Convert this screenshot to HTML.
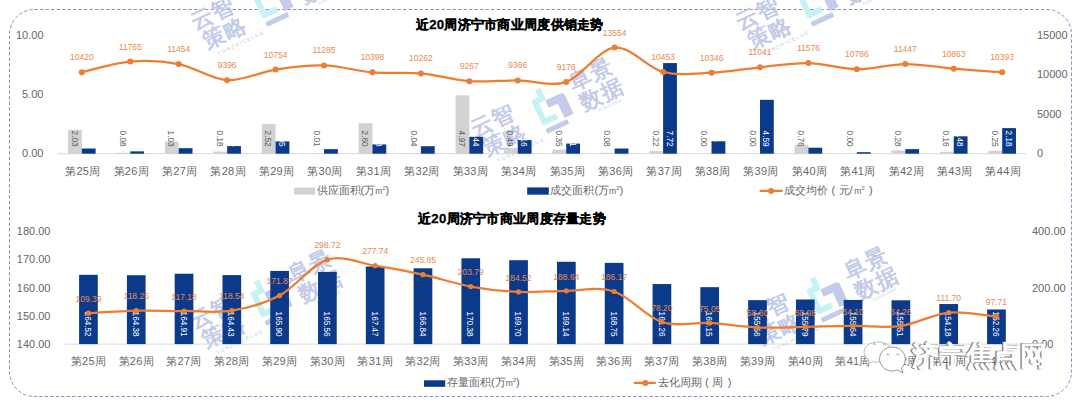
<!DOCTYPE html><html><head><meta charset="utf-8"><style>html,body{margin:0;padding:0;background:#fff;font-family:'Liberation Sans',sans-serif;}body{width:1080px;height:403px;overflow:hidden;position:relative;}svg{position:absolute;left:0;top:0;}</style></head><body>
<svg width="1080" height="403" viewBox="0 0 1080 403" font-family="Liberation Sans, sans-serif">
<rect x="9.5" y="9.5" width="1062" height="387" rx="25" ry="25" fill="none" stroke="#8791c4" stroke-width="1" stroke-dasharray="3.4 2.1"/>
<g transform="translate(315.0,-23.0) rotate(-25)" font-weight="bold" font-size="22" fill="#c3cbe8"><text x="0" y="-3" text-anchor="middle" letter-spacing="1">阜景</text><text x="2" y="20" text-anchor="middle" letter-spacing="1">数据</text><text x="4" y="27" text-anchor="middle" font-size="4" font-weight="normal">FUJING DATA</text><g transform="translate(-50,2)"><path d="M-4,-22 L-4,-11 L-12,-11 L-12,11 L2,11" fill="none" stroke="#c6f2f3" stroke-width="6" stroke-linejoin="round"/><path d="M-2,-8 L14,-8 Q18,-8 18,-4 L18,16 L8,16 L8,0 L-2,0 Z" fill="#c3cbe8"/><rect x="-14" y="18" width="24" height="5" rx="1" fill="#c3cbe8"/></g><text x="-108" y="-3" text-anchor="middle" letter-spacing="1">云智</text><text x="-105" y="20" text-anchor="middle" letter-spacing="1">策略</text><text x="-95" y="30" text-anchor="middle" font-size="5" font-weight="normal" letter-spacing="1.5">YUNZHICELUE</text></g>
<g transform="translate(860.0,-23.0) rotate(-25)" font-weight="bold" font-size="22" fill="#c3cbe8"><text x="0" y="-3" text-anchor="middle" letter-spacing="1">阜景</text><text x="2" y="20" text-anchor="middle" letter-spacing="1">数据</text><text x="4" y="27" text-anchor="middle" font-size="4" font-weight="normal">FUJING DATA</text><g transform="translate(-50,2)"><path d="M-4,-22 L-4,-11 L-12,-11 L-12,11 L2,11" fill="none" stroke="#c6f2f3" stroke-width="6" stroke-linejoin="round"/><path d="M-2,-8 L14,-8 Q18,-8 18,-4 L18,16 L8,16 L8,0 L-2,0 Z" fill="#c3cbe8"/><rect x="-14" y="18" width="24" height="5" rx="1" fill="#c3cbe8"/></g><text x="-108" y="-3" text-anchor="middle" letter-spacing="1">云智</text><text x="-105" y="20" text-anchor="middle" letter-spacing="1">策略</text><text x="-95" y="30" text-anchor="middle" font-size="5" font-weight="normal" letter-spacing="1.5">YUNZHICELUE</text></g>
<g transform="translate(595.0,84.0) rotate(-25)" font-weight="bold" font-size="22" fill="#c3cbe8"><text x="0" y="-3" text-anchor="middle" letter-spacing="1">阜景</text><text x="2" y="20" text-anchor="middle" letter-spacing="1">数据</text><text x="4" y="27" text-anchor="middle" font-size="4" font-weight="normal">FUJING DATA</text><g transform="translate(-50,2)"><path d="M-4,-22 L-4,-11 L-12,-11 L-12,11 L2,11" fill="none" stroke="#c6f2f3" stroke-width="6" stroke-linejoin="round"/><path d="M-2,-8 L14,-8 Q18,-8 18,-4 L18,16 L8,16 L8,0 L-2,0 Z" fill="#c3cbe8"/><rect x="-14" y="18" width="24" height="5" rx="1" fill="#c3cbe8"/></g><text x="-108" y="-3" text-anchor="middle" letter-spacing="1">云智</text><text x="-105" y="20" text-anchor="middle" letter-spacing="1">策略</text><text x="-95" y="30" text-anchor="middle" font-size="5" font-weight="normal" letter-spacing="1.5">YUNZHICELUE</text></g>
<g transform="translate(314.0,276.0) rotate(-25)" font-weight="bold" font-size="22" fill="#c3cbe8"><text x="0" y="-3" text-anchor="middle" letter-spacing="1">阜景</text><text x="2" y="20" text-anchor="middle" letter-spacing="1">数据</text><text x="4" y="27" text-anchor="middle" font-size="4" font-weight="normal">FUJING DATA</text><g transform="translate(-50,2)"><path d="M-4,-22 L-4,-11 L-12,-11 L-12,11 L2,11" fill="none" stroke="#c6f2f3" stroke-width="6" stroke-linejoin="round"/><path d="M-2,-8 L14,-8 Q18,-8 18,-4 L18,16 L8,16 L8,0 L-2,0 Z" fill="#c3cbe8"/><rect x="-14" y="18" width="24" height="5" rx="1" fill="#c3cbe8"/></g><text x="-108" y="-3" text-anchor="middle" letter-spacing="1">云智</text><text x="-105" y="20" text-anchor="middle" letter-spacing="1">策略</text><text x="-95" y="30" text-anchor="middle" font-size="5" font-weight="normal" letter-spacing="1.5">YUNZHICELUE</text></g>
<g transform="translate(870.0,273.0) rotate(-25)" font-weight="bold" font-size="22" fill="#c3cbe8"><text x="0" y="-3" text-anchor="middle" letter-spacing="1">阜景</text><text x="2" y="20" text-anchor="middle" letter-spacing="1">数据</text><text x="4" y="27" text-anchor="middle" font-size="4" font-weight="normal">FUJING DATA</text><g transform="translate(-50,2)"><path d="M-4,-22 L-4,-11 L-12,-11 L-12,11 L2,11" fill="none" stroke="#c6f2f3" stroke-width="6" stroke-linejoin="round"/><path d="M-2,-8 L14,-8 Q18,-8 18,-4 L18,16 L8,16 L8,0 L-2,0 Z" fill="#c3cbe8"/><rect x="-14" y="18" width="24" height="5" rx="1" fill="#c3cbe8"/></g><text x="-108" y="-3" text-anchor="middle" letter-spacing="1">云智</text><text x="-105" y="20" text-anchor="middle" letter-spacing="1">策略</text><text x="-95" y="30" text-anchor="middle" font-size="5" font-weight="normal" letter-spacing="1.5">YUNZHICELUE</text></g>
<text x="509.8" y="28.6" text-anchor="middle" font-size="13.2" letter-spacing="0.28" font-weight="bold" fill="#000" stroke="#000" stroke-width="0.3">近20周济宁市商业周度供销走势</text>
<line x1="57.6" y1="153.7" x2="1026.4" y2="153.7" stroke="#d9d9d9" stroke-width="1"/>
<text x="43.5" y="39.2" text-anchor="end" font-size="11" fill="#666666">10.00</text>
<text x="43.5" y="97.9" text-anchor="end" font-size="11" fill="#666666">5.00</text>
<text x="43.5" y="156.6" text-anchor="end" font-size="11" fill="#666666">0.00</text>
<text x="1037" y="39.2" text-anchor="start" font-size="11" fill="#666666">15000</text>
<text x="1037" y="78.3" text-anchor="start" font-size="11" fill="#666666">10000</text>
<text x="1037" y="117.5" text-anchor="start" font-size="11" fill="#666666">5000</text>
<text x="1037" y="156.6" text-anchor="start" font-size="11" fill="#666666">0</text>
<rect x="68.02" y="129.87" width="13.80" height="23.83" fill="#d3d1d4"/>
<rect x="81.82" y="148.53" width="13.80" height="5.17" fill="#0b3a8b"/>
<text x="82.82" y="175" text-anchor="middle" font-size="11" letter-spacing="0.3" fill="#666666">第25周</text>
<rect x="116.46" y="152.76" width="13.80" height="0.94" fill="#d3d1d4"/>
<rect x="130.26" y="151.35" width="13.80" height="2.35" fill="#0b3a8b"/>
<text x="131.26" y="175" text-anchor="middle" font-size="11" letter-spacing="0.3" fill="#666666">第26周</text>
<rect x="164.90" y="141.61" width="13.80" height="12.09" fill="#d3d1d4"/>
<rect x="178.70" y="148.18" width="13.80" height="5.52" fill="#0b3a8b"/>
<text x="179.70" y="175" text-anchor="middle" font-size="11" letter-spacing="0.3" fill="#666666">第27周</text>
<rect x="213.34" y="151.59" width="13.80" height="2.11" fill="#d3d1d4"/>
<rect x="227.14" y="146.07" width="13.80" height="7.63" fill="#0b3a8b"/>
<text x="228.14" y="175" text-anchor="middle" font-size="11" letter-spacing="0.3" fill="#666666">第28周</text>
<rect x="261.78" y="124.12" width="13.80" height="29.58" fill="#d3d1d4"/>
<rect x="275.58" y="141.37" width="13.80" height="12.33" fill="#0b3a8b"/>
<text x="276.58" y="175" text-anchor="middle" font-size="11" letter-spacing="0.3" fill="#666666">第29周</text>
<rect x="310.22" y="153.58" width="13.80" height="0.12" fill="#d3d1d4"/>
<rect x="324.02" y="149.12" width="13.80" height="4.58" fill="#0b3a8b"/>
<text x="325.02" y="175" text-anchor="middle" font-size="11" letter-spacing="0.3" fill="#666666">第30周</text>
<rect x="358.66" y="123.18" width="13.80" height="30.52" fill="#d3d1d4"/>
<rect x="372.46" y="144.43" width="13.80" height="9.27" fill="#0b3a8b"/>
<text x="373.46" y="175" text-anchor="middle" font-size="11" letter-spacing="0.3" fill="#666666">第31周</text>
<rect x="407.10" y="153.23" width="13.80" height="0.47" fill="#d3d1d4"/>
<rect x="420.90" y="146.19" width="13.80" height="7.51" fill="#0b3a8b"/>
<text x="421.90" y="175" text-anchor="middle" font-size="11" letter-spacing="0.3" fill="#666666">第32周</text>
<rect x="455.54" y="95.35" width="13.80" height="58.35" fill="#d3d1d4"/>
<rect x="469.34" y="136.79" width="13.80" height="16.91" fill="#0b3a8b"/>
<text x="470.34" y="175" text-anchor="middle" font-size="11" letter-spacing="0.3" fill="#666666">第33周</text>
<rect x="503.98" y="147.95" width="13.80" height="5.75" fill="#d3d1d4"/>
<rect x="517.78" y="140.08" width="13.80" height="13.62" fill="#0b3a8b"/>
<text x="518.78" y="175" text-anchor="middle" font-size="11" letter-spacing="0.3" fill="#666666">第34周</text>
<rect x="552.42" y="149.59" width="13.80" height="4.11" fill="#d3d1d4"/>
<rect x="566.22" y="143.60" width="13.80" height="10.10" fill="#0b3a8b"/>
<text x="567.22" y="175" text-anchor="middle" font-size="11" letter-spacing="0.3" fill="#666666">第35周</text>
<rect x="600.86" y="152.76" width="13.80" height="0.94" fill="#d3d1d4"/>
<rect x="614.66" y="148.53" width="13.80" height="5.17" fill="#0b3a8b"/>
<text x="615.66" y="175" text-anchor="middle" font-size="11" letter-spacing="0.3" fill="#666666">第36周</text>
<rect x="649.30" y="151.12" width="13.80" height="2.58" fill="#d3d1d4"/>
<rect x="663.10" y="63.07" width="13.80" height="90.63" fill="#0b3a8b"/>
<text x="664.10" y="175" text-anchor="middle" font-size="11" letter-spacing="0.3" fill="#666666">第37周</text>
<rect x="711.54" y="141.26" width="13.80" height="12.44" fill="#0b3a8b"/>
<text x="712.54" y="175" text-anchor="middle" font-size="11" letter-spacing="0.3" fill="#666666">第38周</text>
<rect x="759.98" y="99.81" width="13.80" height="53.89" fill="#0b3a8b"/>
<text x="760.98" y="175" text-anchor="middle" font-size="11" letter-spacing="0.3" fill="#666666">第39周</text>
<rect x="794.62" y="144.78" width="13.80" height="8.92" fill="#d3d1d4"/>
<rect x="808.42" y="147.71" width="13.80" height="5.99" fill="#0b3a8b"/>
<text x="809.42" y="175" text-anchor="middle" font-size="11" letter-spacing="0.3" fill="#666666">第40周</text>
<rect x="856.86" y="152.17" width="13.80" height="1.53" fill="#0b3a8b"/>
<text x="857.86" y="175" text-anchor="middle" font-size="11" letter-spacing="0.3" fill="#666666">第41周</text>
<rect x="891.50" y="150.41" width="13.80" height="3.29" fill="#d3d1d4"/>
<rect x="905.30" y="149.12" width="13.80" height="4.58" fill="#0b3a8b"/>
<text x="906.30" y="175" text-anchor="middle" font-size="11" letter-spacing="0.3" fill="#666666">第42周</text>
<rect x="939.94" y="151.82" width="13.80" height="1.88" fill="#d3d1d4"/>
<rect x="953.74" y="136.32" width="13.80" height="17.38" fill="#0b3a8b"/>
<text x="954.74" y="175" text-anchor="middle" font-size="11" letter-spacing="0.3" fill="#666666">第43周</text>
<rect x="988.38" y="150.76" width="13.80" height="2.94" fill="#d3d1d4"/>
<rect x="1002.18" y="128.11" width="13.80" height="25.59" fill="#0b3a8b"/>
<text x="1003.18" y="175" text-anchor="middle" font-size="11" letter-spacing="0.3" fill="#666666">第44周</text>
<text transform="translate(71.51,130.6) rotate(90) scale(0.97,1.12)" font-size="8.5" fill="#595959">2.03</text>
<text transform="translate(85.31,130.6) rotate(90) scale(0.97,1.12)" font-size="8.5" fill="#fff">0.44</text>
<text transform="translate(119.95,130.6) rotate(90) scale(0.97,1.12)" font-size="8.5" fill="#595959">0.08</text>
<text transform="translate(133.75,130.6) rotate(90) scale(0.97,1.12)" font-size="8.5" fill="#fff">0.20</text>
<text transform="translate(168.39,130.6) rotate(90) scale(0.97,1.12)" font-size="8.5" fill="#595959">1.03</text>
<text transform="translate(182.19,130.6) rotate(90) scale(0.97,1.12)" font-size="8.5" fill="#fff">0.47</text>
<text transform="translate(216.83,130.6) rotate(90) scale(0.97,1.12)" font-size="8.5" fill="#595959">0.18</text>
<text transform="translate(230.63,130.6) rotate(90) scale(0.97,1.12)" font-size="8.5" fill="#fff">0.65</text>
<text transform="translate(265.27,130.6) rotate(90) scale(0.97,1.12)" font-size="8.5" fill="#595959">2.52</text>
<text transform="translate(279.07,130.6) rotate(90) scale(0.97,1.12)" font-size="8.5" fill="#fff">1.05</text>
<text transform="translate(313.71,130.6) rotate(90) scale(0.97,1.12)" font-size="8.5" fill="#595959">0.01</text>
<text transform="translate(327.51,130.6) rotate(90) scale(0.97,1.12)" font-size="8.5" fill="#fff">0.39</text>
<text transform="translate(362.15,130.6) rotate(90) scale(0.97,1.12)" font-size="8.5" fill="#595959">2.60</text>
<text transform="translate(375.95,130.6) rotate(90) scale(0.97,1.12)" font-size="8.5" fill="#fff">0.78</text>
<text transform="translate(410.59,130.6) rotate(90) scale(0.97,1.12)" font-size="8.5" fill="#595959">0.04</text>
<text transform="translate(424.39,130.6) rotate(90) scale(0.97,1.12)" font-size="8.5" fill="#fff">0.64</text>
<text transform="translate(459.03,130.6) rotate(90) scale(0.97,1.12)" font-size="8.5" fill="#595959">4.97</text>
<text transform="translate(472.83,130.6) rotate(90) scale(0.97,1.12)" font-size="8.5" fill="#fff">1.44</text>
<text transform="translate(507.47,130.6) rotate(90) scale(0.97,1.12)" font-size="8.5" fill="#595959">0.49</text>
<text transform="translate(521.27,130.6) rotate(90) scale(0.97,1.12)" font-size="8.5" fill="#fff">1.16</text>
<text transform="translate(555.91,130.6) rotate(90) scale(0.97,1.12)" font-size="8.5" fill="#595959">0.35</text>
<text transform="translate(569.71,130.6) rotate(90) scale(0.97,1.12)" font-size="8.5" fill="#fff">0.81</text>
<text transform="translate(604.35,130.6) rotate(90) scale(0.97,1.12)" font-size="8.5" fill="#595959">0.08</text>
<text transform="translate(618.15,130.6) rotate(90) scale(0.97,1.12)" font-size="8.5" fill="#fff">0.44</text>
<text transform="translate(652.79,130.6) rotate(90) scale(0.97,1.12)" font-size="8.5" fill="#595959">0.22</text>
<text transform="translate(666.59,130.6) rotate(90) scale(0.97,1.12)" font-size="8.5" fill="#fff">7.72</text>
<text transform="translate(701.23,130.6) rotate(90) scale(0.97,1.12)" font-size="8.5" fill="#595959">0.00</text>
<text transform="translate(715.03,130.6) rotate(90) scale(0.97,1.12)" font-size="8.5" fill="#fff">1.1</text>
<text transform="translate(749.67,130.6) rotate(90) scale(0.97,1.12)" font-size="8.5" fill="#595959">0.00</text>
<text transform="translate(763.47,130.6) rotate(90) scale(0.97,1.12)" font-size="8.5" fill="#fff">4.59</text>
<text transform="translate(798.11,130.6) rotate(90) scale(0.97,1.12)" font-size="8.5" fill="#595959">0.76</text>
<text transform="translate(811.91,130.6) rotate(90) scale(0.97,1.12)" font-size="8.5" fill="#fff">0.51</text>
<text transform="translate(846.55,130.6) rotate(90) scale(0.97,1.12)" font-size="8.5" fill="#595959">0.00</text>
<text transform="translate(860.35,130.6) rotate(90) scale(0.97,1.12)" font-size="8.5" fill="#fff">0.13</text>
<text transform="translate(894.99,130.6) rotate(90) scale(0.97,1.12)" font-size="8.5" fill="#595959">0.28</text>
<text transform="translate(908.79,130.6) rotate(90) scale(0.97,1.12)" font-size="8.5" fill="#fff">0.39</text>
<text transform="translate(943.43,130.6) rotate(90) scale(0.97,1.12)" font-size="8.5" fill="#595959">0.16</text>
<text transform="translate(957.23,130.6) rotate(90) scale(0.97,1.12)" font-size="8.5" fill="#fff">1.48</text>
<text transform="translate(991.87,130.6) rotate(90) scale(0.97,1.12)" font-size="8.5" fill="#595959">0.25</text>
<text transform="translate(1005.67,130.6) rotate(90) scale(0.97,1.12)" font-size="8.5" fill="#fff">2.18</text>
<path d="M81.82,72.15 C89.89,70.39 114.11,62.97 130.26,61.62 C146.41,60.27 162.55,60.96 178.70,64.05 C194.85,67.14 210.99,79.25 227.14,80.16 C243.29,81.07 259.43,72.00 275.58,69.53 C291.73,67.07 307.87,64.91 324.02,65.38 C340.17,65.84 356.31,70.98 372.46,72.32 C388.61,73.65 404.75,71.91 420.90,73.38 C437.05,74.86 453.19,80.00 469.34,81.17 C485.49,82.34 501.63,80.28 517.78,80.40 C533.93,80.51 550.07,87.35 566.22,81.88 C582.37,76.42 598.51,49.28 614.66,47.62 C630.81,45.95 646.95,67.70 663.10,71.89 C679.25,76.07 695.39,73.49 711.54,72.73 C727.69,71.96 743.83,68.89 759.98,67.29 C776.13,65.68 792.27,62.77 808.42,63.10 C824.57,63.43 840.71,69.11 856.86,69.28 C873.01,69.45 889.15,64.21 905.30,64.11 C921.45,64.01 937.59,67.30 953.74,68.68 C969.89,70.05 994.11,71.74 1002.18,72.36" fill="none" stroke="#ed7d31" stroke-width="2.25" stroke-linejoin="round"/>
<circle cx="81.82" cy="72.15" r="3" fill="#ed7d31"/>
<text x="81.82" y="60.20" text-anchor="middle" font-size="8.5" fill="#e98a4c">10420</text>
<circle cx="130.26" cy="61.62" r="3" fill="#ed7d31"/>
<text x="130.26" y="49.67" text-anchor="middle" font-size="8.5" fill="#e98a4c">11765</text>
<circle cx="178.70" cy="64.05" r="3" fill="#ed7d31"/>
<text x="178.70" y="52.10" text-anchor="middle" font-size="8.5" fill="#e98a4c">11454</text>
<circle cx="227.14" cy="80.16" r="3" fill="#ed7d31"/>
<text x="227.14" y="68.21" text-anchor="middle" font-size="8.5" fill="#e98a4c">9396</text>
<circle cx="275.58" cy="69.53" r="3" fill="#ed7d31"/>
<text x="275.58" y="57.58" text-anchor="middle" font-size="8.5" fill="#e98a4c">10754</text>
<circle cx="324.02" cy="65.38" r="3" fill="#ed7d31"/>
<text x="324.02" y="53.43" text-anchor="middle" font-size="8.5" fill="#e98a4c">11285</text>
<circle cx="372.46" cy="72.32" r="3" fill="#ed7d31"/>
<text x="372.46" y="60.37" text-anchor="middle" font-size="8.5" fill="#e98a4c">10398</text>
<circle cx="420.90" cy="73.38" r="3" fill="#ed7d31"/>
<text x="420.90" y="61.43" text-anchor="middle" font-size="8.5" fill="#e98a4c">10262</text>
<circle cx="469.34" cy="81.17" r="3" fill="#ed7d31"/>
<text x="469.34" y="69.22" text-anchor="middle" font-size="8.5" fill="#e98a4c">9267</text>
<circle cx="517.78" cy="80.40" r="3" fill="#ed7d31"/>
<text x="517.78" y="68.45" text-anchor="middle" font-size="8.5" fill="#e98a4c">9366</text>
<circle cx="566.22" cy="81.88" r="3" fill="#ed7d31"/>
<text x="566.22" y="69.93" text-anchor="middle" font-size="8.5" fill="#e98a4c">9176</text>
<circle cx="614.66" cy="47.62" r="3" fill="#ed7d31"/>
<text x="614.66" y="35.67" text-anchor="middle" font-size="8.5" fill="#e98a4c">13554</text>
<circle cx="663.10" cy="71.89" r="3" fill="#ed7d31"/>
<text x="663.10" y="59.94" text-anchor="middle" font-size="8.5" fill="#e98a4c">10453</text>
<circle cx="711.54" cy="72.73" r="3" fill="#ed7d31"/>
<text x="711.54" y="60.78" text-anchor="middle" font-size="8.5" fill="#e98a4c">10346</text>
<circle cx="759.98" cy="67.29" r="3" fill="#ed7d31"/>
<text x="759.98" y="55.34" text-anchor="middle" font-size="8.5" fill="#e98a4c">11041</text>
<circle cx="808.42" cy="63.10" r="3" fill="#ed7d31"/>
<text x="808.42" y="51.15" text-anchor="middle" font-size="8.5" fill="#e98a4c">11576</text>
<circle cx="856.86" cy="69.28" r="3" fill="#ed7d31"/>
<text x="856.86" y="57.33" text-anchor="middle" font-size="8.5" fill="#e98a4c">10786</text>
<circle cx="905.30" cy="64.11" r="3" fill="#ed7d31"/>
<text x="905.30" y="52.16" text-anchor="middle" font-size="8.5" fill="#e98a4c">11447</text>
<circle cx="953.74" cy="68.68" r="3" fill="#ed7d31"/>
<text x="953.74" y="56.73" text-anchor="middle" font-size="8.5" fill="#e98a4c">10863</text>
<circle cx="1002.18" cy="72.36" r="3" fill="#ed7d31"/>
<text x="1002.18" y="60.41" text-anchor="middle" font-size="8.5" fill="#e98a4c">10393</text>
<rect x="294" y="187.6" width="21" height="7" fill="#d3d1d4"/>
<text x="316.5" y="193.6" font-size="11" fill="#666666">供应面积(万<tspan font-size="8.5">m</tspan><tspan font-size="6" dy="-4">2</tspan><tspan dy="4">)</tspan></text>
<rect x="527.2" y="187.4" width="21.6" height="7.3" fill="#0b3a8b"/>
<text x="550.4" y="193.6" font-size="11" fill="#666666">成交面积(万<tspan font-size="8.5">m</tspan><tspan font-size="6" dy="-4">2</tspan><tspan dy="4">)</tspan></text>
<line x1="759.7" y1="190.9" x2="782.6" y2="190.9" stroke="#ed7d31" stroke-width="2.25"/>
<circle cx="771.1" cy="190.9" r="3" fill="#ed7d31"/>
<text x="784" y="193.6" font-size="11" fill="#666666">成交均价<tspan x="831.6">(</tspan><tspan x="838.5">元/</tspan><tspan x="854.3" font-size="8.5">m</tspan><tspan font-size="6" dy="-4">2</tspan><tspan x="869" dy="4">)</tspan></text>
<text x="512" y="223.1" text-anchor="middle" font-size="13.2" letter-spacing="0.28" font-weight="bold" fill="#000" stroke="#000" stroke-width="0.3">近20周济宁市商业周度存量走势</text>
<line x1="64.5" y1="344.1" x2="1020.3" y2="344.1" stroke="#d9d9d9" stroke-width="1"/>
<text x="50.5" y="235.0" text-anchor="end" font-size="11" fill="#666666">180.00</text>
<text x="50.5" y="263.2" text-anchor="end" font-size="11" fill="#666666">170.00</text>
<text x="50.5" y="291.5" text-anchor="end" font-size="11" fill="#666666">160.00</text>
<text x="50.5" y="319.8" text-anchor="end" font-size="11" fill="#666666">150.00</text>
<text x="50.5" y="348.0" text-anchor="end" font-size="11" fill="#666666">140.00</text>
<text x="1032" y="235.0" text-anchor="start" font-size="11" fill="#666666">400.00</text>
<text x="1032" y="291.5" text-anchor="start" font-size="11" fill="#666666">200.00</text>
<text x="1032" y="348.0" text-anchor="start" font-size="11" fill="#666666">0.00</text>
<rect x="79.09" y="274.83" width="18.70" height="69.27" fill="#0b3a8b"/>
<text x="88.44" y="364.6" text-anchor="middle" font-size="11" letter-spacing="0.3" fill="#666666">第25周</text>
<text transform="translate(85.04,311.6) rotate(90) scale(0.96,1.12)" font-size="8.5" fill="#fff">164.52</text>
<rect x="126.89" y="275.23" width="18.70" height="68.87" fill="#0b3a8b"/>
<text x="136.24" y="364.6" text-anchor="middle" font-size="11" letter-spacing="0.3" fill="#666666">第26周</text>
<text transform="translate(132.83,311.6) rotate(90) scale(0.96,1.12)" font-size="8.5" fill="#fff">164.38</text>
<rect x="174.67" y="273.73" width="18.70" height="70.37" fill="#0b3a8b"/>
<text x="184.02" y="364.6" text-anchor="middle" font-size="11" letter-spacing="0.3" fill="#666666">第27周</text>
<text transform="translate(180.62,311.6) rotate(90) scale(0.96,1.12)" font-size="8.5" fill="#fff">164.91</text>
<rect x="222.47" y="275.09" width="18.70" height="69.01" fill="#0b3a8b"/>
<text x="231.81" y="364.6" text-anchor="middle" font-size="11" letter-spacing="0.3" fill="#666666">第28周</text>
<text transform="translate(228.41,311.6) rotate(90) scale(0.96,1.12)" font-size="8.5" fill="#fff">164.43</text>
<rect x="270.25" y="270.93" width="18.70" height="73.17" fill="#0b3a8b"/>
<text x="279.61" y="364.6" text-anchor="middle" font-size="11" letter-spacing="0.3" fill="#666666">第29周</text>
<text transform="translate(276.20,311.6) rotate(90) scale(0.96,1.12)" font-size="8.5" fill="#fff">165.90</text>
<rect x="318.04" y="271.89" width="18.70" height="72.21" fill="#0b3a8b"/>
<text x="327.39" y="364.6" text-anchor="middle" font-size="11" letter-spacing="0.3" fill="#666666">第30周</text>
<text transform="translate(323.99,311.6) rotate(90) scale(0.96,1.12)" font-size="8.5" fill="#fff">165.56</text>
<rect x="365.83" y="266.50" width="18.70" height="77.60" fill="#0b3a8b"/>
<text x="375.19" y="364.6" text-anchor="middle" font-size="11" letter-spacing="0.3" fill="#666666">第31周</text>
<text transform="translate(371.78,311.6) rotate(90) scale(0.96,1.12)" font-size="8.5" fill="#fff">167.47</text>
<rect x="413.62" y="268.28" width="18.70" height="75.82" fill="#0b3a8b"/>
<text x="422.98" y="364.6" text-anchor="middle" font-size="11" letter-spacing="0.3" fill="#666666">第32周</text>
<text transform="translate(419.57,311.6) rotate(90) scale(0.96,1.12)" font-size="8.5" fill="#fff">166.84</text>
<rect x="461.41" y="258.28" width="18.70" height="85.82" fill="#0b3a8b"/>
<text x="470.76" y="364.6" text-anchor="middle" font-size="11" letter-spacing="0.3" fill="#666666">第33周</text>
<text transform="translate(467.36,311.6) rotate(90) scale(0.96,1.12)" font-size="8.5" fill="#fff">170.38</text>
<rect x="509.20" y="260.20" width="18.70" height="83.90" fill="#0b3a8b"/>
<text x="518.55" y="364.6" text-anchor="middle" font-size="11" letter-spacing="0.3" fill="#666666">第34周</text>
<text transform="translate(515.15,311.6) rotate(90) scale(0.96,1.12)" font-size="8.5" fill="#fff">169.70</text>
<rect x="557.00" y="261.78" width="18.70" height="82.32" fill="#0b3a8b"/>
<text x="566.35" y="364.6" text-anchor="middle" font-size="11" letter-spacing="0.3" fill="#666666">第35周</text>
<text transform="translate(562.94,311.6) rotate(90) scale(0.96,1.12)" font-size="8.5" fill="#fff">169.14</text>
<rect x="604.78" y="262.88" width="18.70" height="81.22" fill="#0b3a8b"/>
<text x="614.13" y="364.6" text-anchor="middle" font-size="11" letter-spacing="0.3" fill="#666666">第36周</text>
<text transform="translate(610.73,311.6) rotate(90) scale(0.96,1.12)" font-size="8.5" fill="#fff">168.75</text>
<rect x="652.57" y="284.04" width="18.70" height="60.06" fill="#0b3a8b"/>
<text x="661.92" y="364.6" text-anchor="middle" font-size="11" letter-spacing="0.3" fill="#666666">第37周</text>
<text transform="translate(658.52,311.6) rotate(90) scale(0.96,1.12)" font-size="8.5" fill="#fff">161.26</text>
<rect x="700.36" y="287.18" width="18.70" height="56.92" fill="#0b3a8b"/>
<text x="709.71" y="364.6" text-anchor="middle" font-size="11" letter-spacing="0.3" fill="#666666">第38周</text>
<text transform="translate(706.31,311.6) rotate(90) scale(0.96,1.12)" font-size="8.5" fill="#fff">160.15</text>
<rect x="748.15" y="300.14" width="18.70" height="43.96" fill="#0b3a8b"/>
<text x="757.50" y="364.6" text-anchor="middle" font-size="11" letter-spacing="0.3" fill="#666666">第39周</text>
<text transform="translate(754.10,311.6) rotate(90) scale(0.96,1.12)" font-size="8.5" fill="#fff">155.56</text>
<rect x="795.94" y="299.49" width="18.70" height="44.61" fill="#0b3a8b"/>
<text x="805.29" y="364.6" text-anchor="middle" font-size="11" letter-spacing="0.3" fill="#666666">第40周</text>
<text transform="translate(801.89,311.6) rotate(90) scale(0.96,1.12)" font-size="8.5" fill="#fff">155.79</text>
<rect x="843.73" y="299.92" width="18.70" height="44.18" fill="#0b3a8b"/>
<text x="853.08" y="364.6" text-anchor="middle" font-size="11" letter-spacing="0.3" fill="#666666">第41周</text>
<text transform="translate(849.68,311.6) rotate(90) scale(0.96,1.12)" font-size="8.5" fill="#fff">155.64</text>
<rect x="891.52" y="300.28" width="18.70" height="43.82" fill="#0b3a8b"/>
<text x="900.87" y="364.6" text-anchor="middle" font-size="11" letter-spacing="0.3" fill="#666666">第42周</text>
<text transform="translate(897.47,311.6) rotate(90) scale(0.96,1.12)" font-size="8.5" fill="#fff">155.51</text>
<rect x="939.31" y="304.04" width="18.70" height="40.06" fill="#0b3a8b"/>
<text x="948.66" y="364.6" text-anchor="middle" font-size="11" letter-spacing="0.3" fill="#666666">第43周</text>
<text transform="translate(945.26,311.6) rotate(90) scale(0.96,1.12)" font-size="8.5" fill="#fff">154.18</text>
<rect x="987.10" y="309.47" width="18.70" height="34.63" fill="#0b3a8b"/>
<text x="996.45" y="364.6" text-anchor="middle" font-size="11" letter-spacing="0.3" fill="#666666">第44周</text>
<text transform="translate(993.05,311.6) rotate(90) scale(0.96,1.12)" font-size="8.5" fill="#fff">152.26</text>
<path d="M88.44,313.20 C96.41,312.78 120.31,311.06 136.24,310.69 C152.17,310.33 168.09,311.01 184.02,311.00 C199.95,310.98 215.88,313.19 231.81,310.61 C247.75,308.04 263.68,304.03 279.61,295.55 C295.54,287.06 311.46,264.70 327.39,259.71 C343.32,254.73 359.25,263.15 375.19,265.64 C391.12,268.13 407.05,271.17 422.98,274.65 C438.91,278.13 454.83,283.64 470.76,286.53 C486.69,289.42 502.62,291.26 518.55,291.97 C534.48,292.69 550.41,290.89 566.35,290.81 C582.28,290.73 598.21,286.31 614.13,291.51 C630.06,296.71 646.00,316.78 661.92,322.01 C677.85,327.24 693.78,321.98 709.71,322.90 C725.64,323.82 741.58,326.88 757.50,327.55 C773.43,328.21 789.37,327.13 805.29,326.87 C821.22,326.61 837.15,326.15 853.08,325.99 C869.01,325.84 884.94,328.19 900.87,325.95 C916.80,323.71 932.73,314.12 948.66,312.54 C964.60,310.97 988.49,315.84 996.45,316.50" fill="none" stroke="#ed7d31" stroke-width="2.25" stroke-linejoin="round"/>
<circle cx="88.44" cy="313.20" r="2.6" fill="#ed7d31"/>
<text x="88.44" y="301.95" text-anchor="middle" font-size="8.5" fill="#e98a4c">109.39</text>
<circle cx="136.24" cy="310.69" r="2.6" fill="#ed7d31"/>
<text x="136.24" y="299.44" text-anchor="middle" font-size="8.5" fill="#e98a4c">118.25</text>
<circle cx="184.02" cy="311.00" r="2.6" fill="#ed7d31"/>
<text x="184.02" y="299.75" text-anchor="middle" font-size="8.5" fill="#e98a4c">117.18</text>
<circle cx="231.81" cy="310.61" r="2.6" fill="#ed7d31"/>
<text x="231.81" y="299.36" text-anchor="middle" font-size="8.5" fill="#e98a4c">118.54</text>
<circle cx="279.61" cy="295.55" r="2.6" fill="#ed7d31"/>
<text x="279.61" y="284.30" text-anchor="middle" font-size="8.5" fill="#e98a4c">171.87</text>
<circle cx="327.39" cy="259.71" r="2.6" fill="#ed7d31"/>
<text x="327.39" y="248.46" text-anchor="middle" font-size="8.5" fill="#e98a4c">298.72</text>
<circle cx="375.19" cy="265.64" r="2.6" fill="#ed7d31"/>
<text x="375.19" y="254.39" text-anchor="middle" font-size="8.5" fill="#e98a4c">277.74</text>
<circle cx="422.98" cy="274.65" r="2.6" fill="#ed7d31"/>
<text x="422.98" y="263.40" text-anchor="middle" font-size="8.5" fill="#e98a4c">245.85</text>
<circle cx="470.76" cy="286.53" r="2.6" fill="#ed7d31"/>
<text x="470.76" y="275.28" text-anchor="middle" font-size="8.5" fill="#e98a4c">203.79</text>
<circle cx="518.55" cy="291.97" r="2.6" fill="#ed7d31"/>
<text x="518.55" y="280.72" text-anchor="middle" font-size="8.5" fill="#e98a4c">184.52</text>
<circle cx="566.35" cy="290.81" r="2.6" fill="#ed7d31"/>
<text x="566.35" y="279.56" text-anchor="middle" font-size="8.5" fill="#e98a4c">188.64</text>
<circle cx="614.13" cy="291.51" r="2.6" fill="#ed7d31"/>
<text x="614.13" y="280.26" text-anchor="middle" font-size="8.5" fill="#e98a4c">186.17</text>
<circle cx="661.92" cy="322.01" r="2.6" fill="#ed7d31"/>
<text x="661.92" y="310.76" text-anchor="middle" font-size="8.5" fill="#e98a4c">78.20</text>
<circle cx="709.71" cy="322.90" r="2.6" fill="#ed7d31"/>
<text x="709.71" y="311.65" text-anchor="middle" font-size="8.5" fill="#e98a4c">75.05</text>
<circle cx="757.50" cy="327.55" r="2.6" fill="#ed7d31"/>
<text x="757.50" y="316.30" text-anchor="middle" font-size="8.5" fill="#e98a4c">58.60</text>
<circle cx="805.29" cy="326.87" r="2.6" fill="#ed7d31"/>
<text x="805.29" y="315.62" text-anchor="middle" font-size="8.5" fill="#e98a4c">60.98</text>
<circle cx="853.08" cy="325.99" r="2.6" fill="#ed7d31"/>
<text x="853.08" y="314.74" text-anchor="middle" font-size="8.5" fill="#e98a4c">64.10</text>
<circle cx="900.87" cy="325.95" r="2.6" fill="#ed7d31"/>
<text x="900.87" y="314.70" text-anchor="middle" font-size="8.5" fill="#e98a4c">64.26</text>
<circle cx="948.66" cy="312.54" r="2.6" fill="#ed7d31"/>
<text x="948.66" y="301.29" text-anchor="middle" font-size="8.5" fill="#e98a4c">111.70</text>
<circle cx="996.45" cy="316.50" r="2.6" fill="#ed7d31"/>
<text x="996.45" y="305.25" text-anchor="middle" font-size="8.5" fill="#e98a4c">97.71</text>
<rect x="424" y="380.3" width="21.2" height="6.5" fill="#0b3a8b"/>
<text x="447" y="386.1" font-size="11" fill="#666666">存量面积(万<tspan font-size="8.5">m</tspan><tspan font-size="6" dy="-4">2</tspan><tspan dy="4">)</tspan></text>
<line x1="633.9" y1="382.9" x2="655.8" y2="382.9" stroke="#ed7d31" stroke-width="2.25"/>
<circle cx="645.3" cy="382.9" r="3" fill="#ed7d31"/>
<text x="658.3" y="386.1" font-size="11" fill="#666666">去化周期<tspan x="705">(</tspan><tspan x="712.3">周</tspan><tspan x="727.8">)</tspan></text>
<g>
<path d="M877.9,342 C870,342 864,346.5 864,352 C864,355.3 866,358 869,360 L867.5,364 L872,361.5 C873.8,362 875.8,362.2 877.9,362.2 C885.8,362.2 892,357.7 892,352 C892,346.5 885.8,342 877.9,342 Z" fill="#fff" stroke="#b5b5b5" stroke-width="0.9"/>
<path d="M873,344.5 q1.3,-1.6 2.6,0 M883,344.5 q1.3,-1.6 2.6,0" fill="none" stroke="#888" stroke-width="0.9"/>
<path d="M892.4,347 C885.3,347 879.6,352.3 879.6,359 C879.6,365.7 885.3,371 892.4,371 C894.3,371 896,370.7 897.6,370 L903,373 L901.5,368 C904,365.8 905.3,362.6 905.3,359 C905.3,352.3 899.5,347 892.4,347 Z" fill="#fff" stroke="#8a8a8a" stroke-width="0.9"/>
<path d="M886.5,355 q1.3,-1.6 2.6,0 M896.5,355 q1.3,-1.6 2.6,0" fill="none" stroke="#888" stroke-width="0.9"/>
<text x="912" y="364.5" font-size="26.5" fill="#7a7a7a" stroke="#7a7a7a" stroke-width="2.2" stroke-linejoin="round" letter-spacing="0" transform="translate(-0.6,0.6)">济宁焦点网</text>
<text x="912" y="364.5" font-size="26.5" fill="#fff" stroke="#fff" stroke-width="1.4" stroke-linejoin="round" letter-spacing="0">济宁焦点网</text>
</g>
</svg></body></html>
